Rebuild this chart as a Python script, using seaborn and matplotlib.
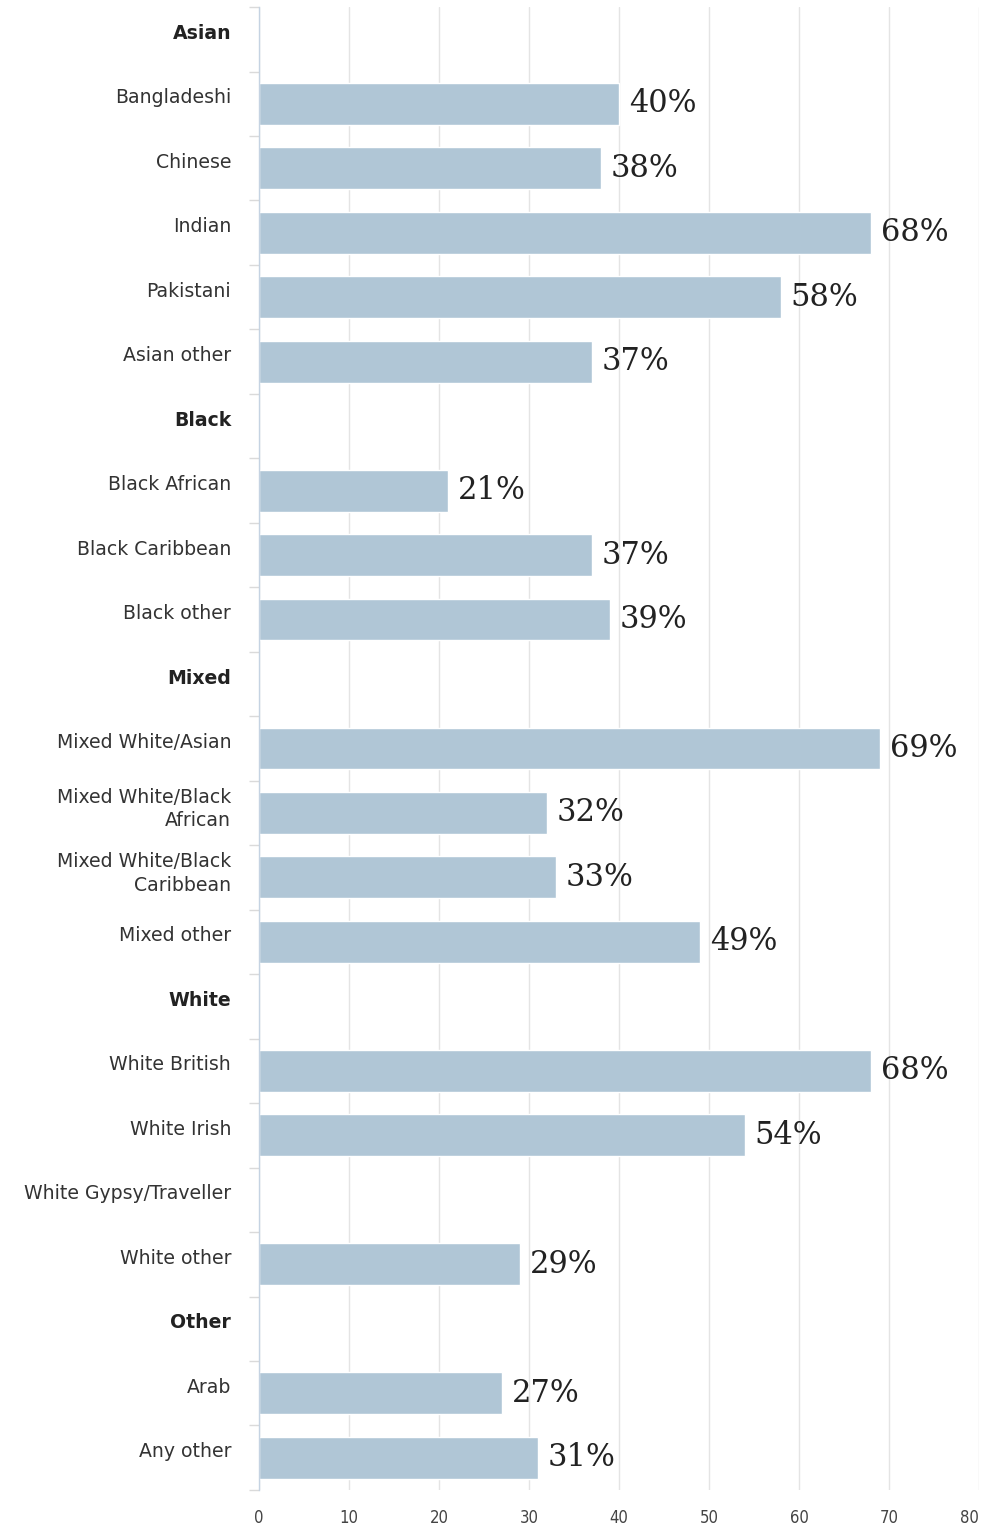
import numpy as np
import pandas as pd
import matplotlib
matplotlib.use("Agg")
import matplotlib.pyplot as plt
import matplotlib.transforms as mtransforms
import seaborn as sns

categories = ["Asian", "Bangladeshi", "Chinese", "Indian", "Pakistani", "Asian other",
              "Black", "Black African", "Black Caribbean", "Black other",
              "Mixed", "Mixed White/Asian", "Mixed White/Black\nAfrican",
              "Mixed White/Black\nCaribbean", "Mixed other",
              "White", "White British", "White Irish", "White Gypsy/Traveller", "White other",
              "Other", "Arab", "Any other"]
values = [np.nan, 40, 38, 68, 58, 37,
          np.nan, 21, 37, 39,
          np.nan, 69, 32, 33, 49,
          np.nan, 68, 54, np.nan, 29,
          np.nan, 27, 31]
headers = ["Asian", "Black", "Mixed", "White", "Other"]
x_ticks = [0, 10, 20, 30, 40, 50, 60, 70, 80]

df = pd.DataFrame({"group": categories, "pct": values})

sns.set_style("white")
plt.rcParams["font.family"] = ["DejaVu Sans"]

fig = plt.figure(figsize=(9.86, 15.28), dpi=100)
ax = fig.add_axes([0.2627, 0.0249, 0.993 - 0.2627, 0.9954 - 0.0249])

sns.barplot(data=df, y="group", x="pct", order=categories, color="#b0c6d6",
            saturation=1, width=0.65, errorbar=None, ax=ax)

ax.set_xlim(0, 80)
ax.set_ylim(len(categories) - 0.5, -0.5)
ax.set_xticks(x_ticks)
ax.set_xticklabels([str(t) for t in x_ticks], fontsize=12, color="#444444",
                   fontstretch="condensed")
ax.get_xticklabels()[-1].set_ha("right")
ax.set_xlabel("")
ax.set_ylabel("")

for s in ["top", "right", "bottom"]:
    ax.spines[s].set_visible(False)
ax.spines["left"].set_color("#c5d3e2")
ax.spines["left"].set_linewidth(1)

ax.grid(axis="x", color="#e4e4e4", linewidth=1)
ax.set_axisbelow(True)

ax.tick_params(axis="x", length=0, pad=14)
ax.tick_params(axis="y", which="major", left=False, length=0, pad=20)
ax.set_yticks(np.arange(len(categories) + 1) - 0.5, minor=True)
ax.tick_params(axis="y", which="minor", left=True, length=7, color="#dadada", width=1)

offset = mtransforms.ScaledTranslation(0, 8 / 100, fig.dpi_scale_trans)
for lab in ax.get_yticklabels():
    lab.set_fontsize(13.6)
    lab.set_linespacing(1.3)
    lab.set_transform(lab.get_transform() + offset)
    if lab.get_text() in headers:
        lab.set_fontweight("bold")
        lab.set_color("#222222")
    else:
        lab.set_color("#333333")

for i, v in enumerate(values):
    if np.isnan(v):
        continue
    ax.annotate(f"{v:.0f}%", xy=(v, i), xytext=(7, 0), textcoords="offset points",
                ha="left", va="center", fontsize=22, family="DejaVu Serif",
                color="#222222")

fig.savefig("out.png", dpi=100)
